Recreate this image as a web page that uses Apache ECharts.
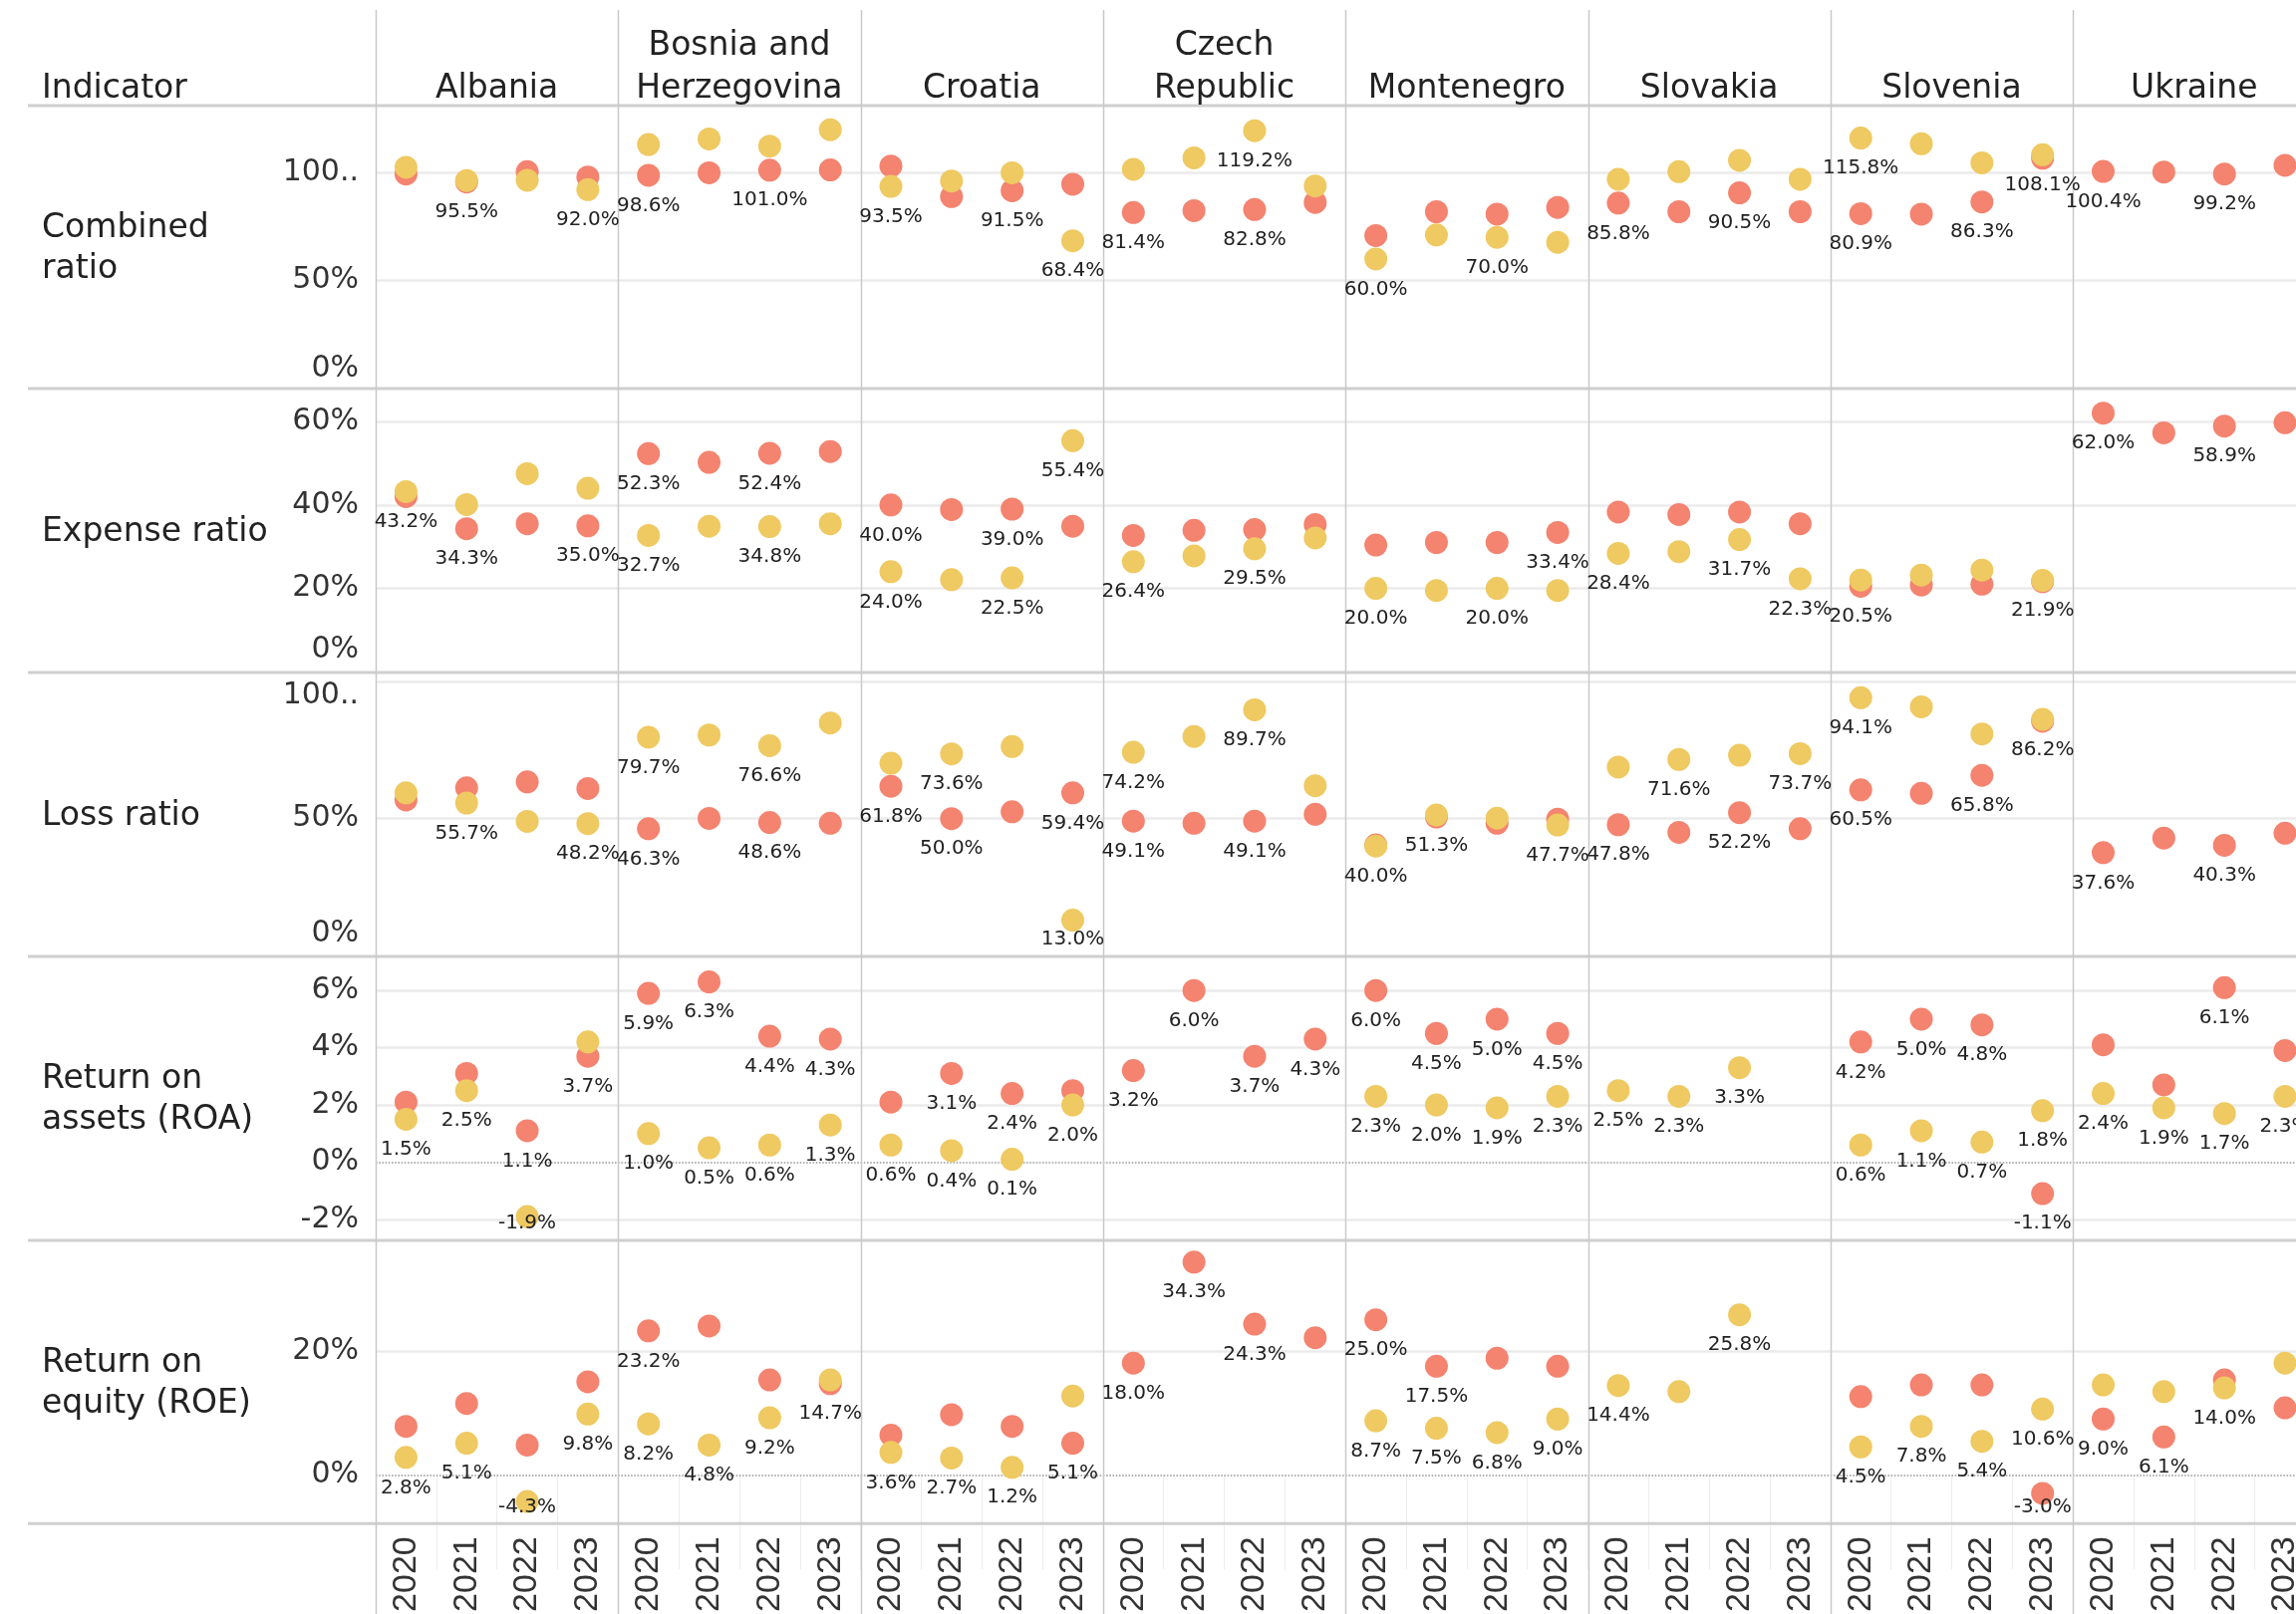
<!DOCTYPE html>
<html><head><meta charset="utf-8">
<script src="https://cdn.jsdelivr.net/npm/echarts@6/dist/echarts.min.js"></script>
<style>html,body{margin:0;padding:0;background:#fff}#c{width:2304px;height:1620px}</style>
</head><body><div id="c"></div><script>
// ---------------- DATA ----------------
const countries = ['Albania','Bosnia and\nHerzegovina','Croatia','Czech\nRepublic','Montenegro','Slovakia','Slovenia','Ukraine'];
const years = ['2020','2021','2022','2023'];
const indicators = ['Combined\nratio','Expense ratio','Loss ratio','Return on\nassets (ROA)','Return on\nequity (ROE)'];

const combinedRed = [[99.2,95.5,100.3,97.8],[98.6,99.8,101.0,101.1],[102.9,88.8,91.5,94.5],[81.4,82.3,82.8,86.1],[70.8,81.8,80.7,83.8],[85.8,81.8,90.5,81.8],[80.9,80.7,86.3,106.5],[100.4,100.1,99.2,103.2]];
const combinedYellow = [[102.3,96.2,96.3,92.0],[112.8,115.4,112.1,119.7],[93.5,96.0,99.8,68.4],[101.4,106.7,119.2,93.7],[60.0,71.1,70.0,67.7],[96.8,100.3,105.5,96.8],[115.8,113.2,104.4,108.1],[null,null,null,null]];
const expenseRed = [[42.0,34.3,35.5,35.0],[52.3,50.2,52.4,52.8],[40.0,38.9,39.0,34.9],[32.7,33.9,34.1,35.3],[30.4,31.0,31.0,33.4],[38.3,37.7,38.3,35.5],[20.5,20.8,21.0,21.6],[62.0,57.3,58.9,59.7]];
const expenseYellow = [[43.2,40.1,47.5,44.0],[32.7,34.9,34.8,35.5],[24.0,22.1,22.5,55.4],[26.4,27.8,29.5,32.1],[20.0,19.5,20.0,19.5],[28.4,28.8,31.7,22.3],[22.0,23.2,24.4,21.9],[null,null,null,null]];
const lossRed = [[56.8,61.2,63.4,61.0],[46.3,50.1,48.6,48.3],[61.8,50.0,52.5,59.4],[49.1,48.3,49.1,51.6],[40.4,50.6,48.3,49.8],[47.8,45.0,52.2,46.3],[60.5,59.2,65.8,85.5],[37.6,42.9,40.3,44.7]];
const lossYellow = [[59.4,55.7,49.0,48.2],[79.7,80.5,76.6,84.9],[70.2,73.6,76.3,13.0],[74.2,80.0,89.7,62.0],[40.0,51.3,50.2,47.7],[68.8,71.6,73.1,73.7],[94.1,90.8,80.9,86.2],[null,null,null,null]];
const roaRed = [[2.1,3.1,1.1,3.7],[5.9,6.3,4.4,4.3],[2.1,3.1,2.4,2.5],[3.2,6.0,3.7,4.3],[6.0,4.5,5.0,4.5],[null,null,null,null],[4.2,5.0,4.8,-1.1],[4.1,2.7,6.1,3.9]];
const roaYellow = [[1.5,2.5,-1.9,4.2],[1.0,0.5,0.6,1.3],[0.6,0.4,0.1,2.0],[null,null,null,null],[2.3,2.0,1.9,2.3],[2.5,2.3,3.3,null],[0.6,1.1,0.7,1.8],[2.4,1.9,1.7,2.3]];
const roeRed = [[7.8,11.5,4.8,15.0],[23.2,24.0,15.3,14.7],[6.4,9.7,7.8,5.1],[18.0,34.3,24.3,22.1],[25.0,17.5,18.8,17.5],[null,null,null,null],[12.6,14.5,14.5,-3.0],[9.0,6.1,15.3,10.8]];
const roeYellow = [[2.8,5.1,-4.3,9.8],[8.2,4.8,9.2,15.3],[3.6,2.7,1.2,12.7],[null,null,null,null],[8.7,7.5,6.8,9.0],[14.4,13.4,25.8,null],[4.5,7.8,5.4,10.6],[14.5,13.4,14.0,18.0]];

// which points carry a value label ('1' = labelled), per country, years 2020..2023
const combinedRedLbl = ['0100','1010','0010','1010','0000','1010','1010','1010'];
const combinedYellowLbl = ['0001','0000','1001','0010','1010','0000','1001','0000'];
const expenseRedLbl = ['0101','1010','1010','0000','0001','0000','1000','1010'];
const expenseYellowLbl = ['1000','1010','1011','1010','1010','1011','0001','0000'];
const lossRedLbl = ['0000','1010','1101','1010','0000','1010','1010','1010'];
const lossYellowLbl = ['0101','1010','0101','1010','1101','0101','1001','0000'];
const roaRedLbl = ['0011','1111','0110','1111','1111','0000','1111','0010'];
const roaYellowLbl = ['1110','1111','1111','0000','1111','1110','1111','1111'];
const roeRedLbl = ['0000','1001','0001','1110','1100','0000','0001','1100'];
const roeYellowLbl = ['1111','1110','1110','0000','1111','1010','1111','0010'];

// axis ticks per indicator
const tickValues = [[0,50,100],[0,20,40,60],[0,50,100],[-2,0,2,4,6],[0,20]];
const tickLabels = [['0%','50%','100..'],['0%','20%','40%','60%'],['0%','50%','100..'],['-2%','0%','2%','4%','6%'],['0%','20%']];
const axisMin = [0, 0, 0, -2.71, -7.88];
const axisMax = [130.8, 67.9, 103.3, 7.19, 37.8];

// ---------------- LAYOUT / STYLE ----------------
const FONT = 'DejaVu Sans';
const RED = '#F4836F', YEL = '#EFC961';
const COL0 = 377, COLW = 243.3;
const ROWTOP = [106, 390, 675, 960, 1245], ROWH = 284.3;
const labelShift = [[-20,0,0],[-22,0,0,0],[-22,0,14],[0,0,0,0,0],[0,0]];

const redSets = [combinedRed, expenseRed, lossRed, roaRed, roeRed];
const yelSets = [combinedYellow, expenseYellow, lossYellow, roaYellow, roeYellow];
const redLbls = [combinedRedLbl, expenseRedLbl, lossRedLbl, roaRedLbl, roeRedLbl];
const yelLbls = [combinedYellowLbl, expenseYellowLbl, lossYellowLbl, roaYellowLbl, roeYellowLbl];

const grids = [], xAxes = [], yAxes = [], series = [];
for (let r = 0; r < 5; r++) {
  const paneLimit = ROWTOP[r] + ROWH - 17;
  for (let c = 0; c < 8; c++) {
    const idx = r * 8 + c;
    grids.push({left: COL0 + c * COLW, top: ROWTOP[r], width: COLW, height: ROWH,
      containLabel: false, outerBoundsMode: 'none'});
    xAxes.push({type: 'category', gridIndex: idx, data: years, boundaryGap: true,
      axisLine: {show: false},
      axisTick: {show: r === 4, length: 95, lineStyle: {color: '#ededed', width: 1}},
      axisLabel: {show: r === 4, rotate: 90, fontSize: 34, fontFamily: 'Liberation Sans', color: '#333', margin: 13},
      splitLine: {show: false}});
    yAxes.push({type: 'value', gridIndex: idx, min: axisMin[r], max: axisMax[r], show: false,
      splitLine: {show: false}});
    const mlData = tickValues[r].map((v, i) => {
      const isZeroDotted = (v === 0 && r >= 3);
      const atEdge = (v === axisMin[r]);
      return {
        yAxis: v,
        lineStyle: isZeroDotted ? {color: '#9a9a9a', width: 1.6, type: 'dotted'}
                                : {color: atEdge ? 'rgba(0,0,0,0)' : '#ebebeb', width: 2.5, type: 'solid'},
        label: {show: c === 0, position: 'start', distance: 17, formatter: tickLabels[r][i],
          fontSize: 30, fontFamily: FONT, color: '#333', offset: [0, labelShift[r][i]]}
      };
    });
    series.push({type: 'line', xAxisIndex: idx, yAxisIndex: idx, data: [], z: 1, silent: true,
      markLine: {z: 1, silent: true, symbol: ['none', 'none'], animation: false, data: mlData,
        label: {show: false}, emphasis: {disabled: true}}});
    const mk = (vals, lbl, color) => ({
      type: 'scatter', xAxisIndex: idx, yAxisIndex: idx, symbolSize: 23, z: 3, animation: false,
      itemStyle: {color: color, opacity: 1},
      emphasis: {disabled: true},
      label: {position: 'bottom', distance: 9, fontSize: 20, fontFamily: FONT, color: '#222',
        formatter: p => p.value[1].toFixed(1) + '%'},
      labelLayout: function (params) {
        const lr = params.labelRect;
        const cy = lr.y + lr.height / 2;
        return cy > paneLimit ? {dy: paneLimit - cy, hideOverlap: false} : {hideOverlap: false};
      },
      data: vals.map((v, i) => v == null ? null : {value: [years[i], v], label: {show: lbl[i] === '1'}}).filter(d => d)
    });
    series.push(mk(redSets[r][c], redLbls[r][c], RED));
    series.push(mk(yelSets[r][c], yelLbls[r][c], YEL));
  }
}

// decoration: headers, row labels, separators
const graphics = [];
const txt = (text, x, y, align, vAlign, extra) => ({
  type: 'text', z: 20, silent: true,
  style: Object.assign({text: text, x: x, y: y, fill: '#222', fontSize: 33, fontFamily: FONT,
    textAlign: align, align: align, textVerticalAlign: vAlign, verticalAlign: vAlign, lineHeight: 43}, extra || {})
});
graphics.push(txt('Indicator', 42, 111, 'left', 'bottom'));
countries.forEach((n, c) => graphics.push(txt(n, COL0 + c * COLW + COLW / 2, 111, 'center', 'bottom')));
indicators.forEach((n, r) => graphics.push(txt(n, 42, ROWTOP[r] + ROWH / 2 + 2, 'left', 'middle', {lineHeight: 41})));
const hLines = ROWTOP.concat([ROWTOP[4] + ROWH]);
hLines.forEach(y => graphics.push({type: 'line', z: 2, silent: true,
  shape: {x1: 28, y1: y, x2: 2304, y2: y}, style: {stroke: '#cfcfcf', lineWidth: 3}}));
for (let c = 0; c < 8; c++) {
  const x = Math.round(COL0 + c * COLW) + 0.5;
  graphics.push({type: 'line', z: 2, silent: true,
    shape: {x1: x, y1: 10, x2: x, y2: 1620}, style: {stroke: '#c9c9c9', lineWidth: 1.5}});
}

const chart = echarts.init(document.getElementById('c'), null, {renderer: 'canvas', width: 2304, height: 1620});
chart.setOption({
  backgroundColor: '#ffffff',
  animation: false,
  grid: grids, xAxis: xAxes, yAxis: yAxes, series: series,
  graphic: graphics
});
</script></body></html>
